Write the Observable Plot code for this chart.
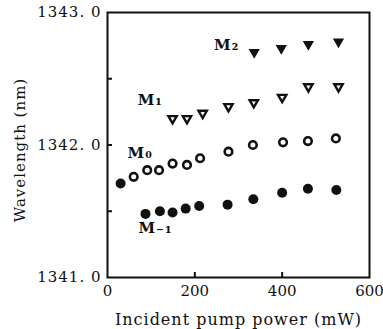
<!DOCTYPE html>
<html><head><meta charset="utf-8">
<script src="https://cdn.jsdelivr.net/npm/d3@7"></script>
<script src="https://cdn.jsdelivr.net/npm/@observablehq/plot@0.6"></script>
<style>
body{margin:0;background:#fff;}
svg text{font-family:"DejaVu Serif",serif;}
</style></head>
<body><div id="chart"></div>
<script>
// Data (pump power in mW, wavelength in nm)
const mMinus1X = [87, 120, 149, 179, 210, 275, 334, 400, 459, 524];
const mMinus1Y = [1341.48, 1341.50, 1341.49, 1341.52, 1341.54, 1341.55, 1341.59, 1341.64, 1341.67, 1341.66];
const m0X = [60, 91, 118, 149, 182, 212, 277, 333, 402, 459, 523];
const m0Y = [1341.76, 1341.81, 1341.81, 1341.86, 1341.85, 1341.90, 1341.95, 1342.00, 1342.02, 1342.03, 1342.05];
const m0StartX = [30];
const m0StartY = [1341.71];
const m1X = [149, 182, 218, 277, 335, 400, 460, 529];
const m1Y = [1342.20, 1342.20, 1342.24, 1342.29, 1342.32, 1342.36, 1342.44, 1342.44];
const m2X = [336, 398, 460, 529];
const m2Y = [1342.70, 1342.73, 1342.76, 1342.78];
const labelText = ["M\u2082", "M\u2081", "M\u2080", "M\u208B\u2081"];
const labelX = [244, 69, 46, 71];
const labelY = [1342.75, 1342.34, 1341.94, 1341.37];
const xTickLabels = [0, 200, 400, 600];
const yTickLabels = [1341, 1342, 1343];
const xMinorTicks = [200, 400];
const yMinorTicks = [1341.5, 1342, 1342.5];
const xTitle = "Incident pump power (mW)";
const yTitle = "Wavelength (nm)";

const zip = (xs, ys) => xs.map((x, i) => ({x, y: ys[i]}));
const triDown = {
  draw(ctx, size) {
    const s = Math.sqrt(size * 4 / Math.sqrt(3));
    const h = s * Math.sqrt(3) / 2;
    ctx.moveTo(-s / 2, -h / 3);
    ctx.lineTo(s / 2, -h / 3);
    ctx.lineTo(0, 2 * h / 3);
    ctx.closePath();
  }
};
const labels = labelText.map((t, i) => ({t, x: labelX[i], y: labelY[i]}));

const chart = Plot.plot({
  width: 383, height: 329,
  marginLeft: 107, marginRight: 14, marginTop: 12, marginBottom: 52,
  x: {domain: [0, 600]},
  y: {domain: [1341, 1343]},
  style: {fontFamily: "DejaVu Serif", fontSize: "14px", color: "#111", letterSpacing: "1px", overflow: "visible"},
  marks: [
    Plot.frame({stroke: "#111", strokeWidth: 2}),
    Plot.axisX(xMinorTicks, {tickSize: -5, strokeWidth: 2, text: null, label: null}),
    Plot.axisX(xTickLabels, {tickSize: 0, tickPadding: 8, fontSize: 15, label: null}),
    Plot.axisY(yMinorTicks, {tickSize: -5, strokeWidth: 2, text: null, label: null}),
    Plot.axisY(yTickLabels, {tickSize: 0, tickPadding: 6, fontSize: 15, tickFormat: d => d.toFixed(1).replace(".", ". "), label: null}),
    Plot.text([xTitle], {text: d => d, frameAnchor: "bottom", dy: 47, fontSize: 16, fill: "#111"}),
    Plot.text([yTitle], {text: d => d, frameAnchor: "left", textAnchor: "middle", dx: -87, dy: 5, rotate: -90, fontSize: 15, fill: "#111"}),
    Plot.dot(zip(mMinus1X, mMinus1Y), {x: "x", y: "y", r: 5, fill: "#111", stroke: "none"}),
    Plot.dot(zip(m0StartX, m0StartY), {x: "x", y: "y", r: 5, fill: "#111", stroke: "none"}),
    Plot.dot(zip(m0X, m0Y), {x: "x", y: "y", r: 3.8, fill: "white", stroke: "#111", strokeWidth: 2.6}),
    Plot.dot(zip(m1X, m1Y), {x: "x", y: "y", symbol: triDown, r: 3.1, fill: "white", stroke: "#111", strokeWidth: 2.4}),
    Plot.dot(zip(m2X, m2Y), {x: "x", y: "y", symbol: triDown, r: 3.4, fill: "#111", stroke: "#111", strokeWidth: 1.2}),
    Plot.text(labels, {x: "x", y: "y", text: "t", textAnchor: "start", fontSize: 15, fontWeight: "bold", fill: "#111"})
  ]
});
d3.select(chart).selectAll("g[aria-label='x-axis tick label'] text").style("letter-spacing", "0px");
document.getElementById("chart").appendChild(chart);
</script></body></html>
